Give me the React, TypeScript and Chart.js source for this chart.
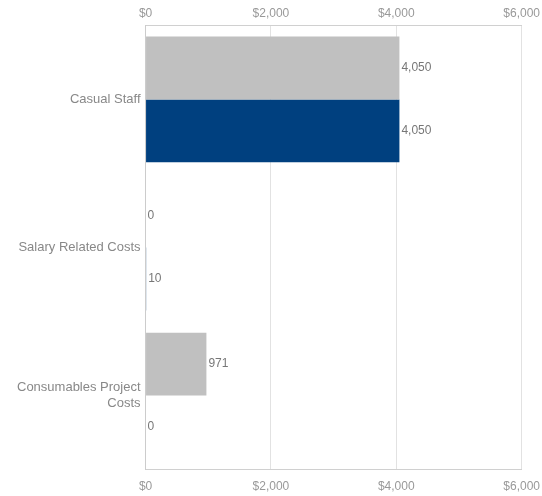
import React, { useEffect, useRef } from "react";
import { Chart, registerables } from "chart.js";

Chart.register(...registerables);

const categories: (string | string[])[] = [
  "Casual Staff",
  "Salary Related Costs",
  ["Consumables Project", "Costs"],
];
const seriesGray = [4050, 0, 971];
const seriesNavy = [4050, 10, 0];
const tickMin = 0;
const tickMax = 6000;
const tickStep = 2000;

const FONT = "'Liberation Sans', Arial, sans-serif";

const valueLabels = {
  id: "valueLabels",
  afterDatasetsDraw(chart: any) {
    const ctx = chart.ctx;
    ctx.save();
    ctx.font = `12px ${FONT}`;
    ctx.fillStyle = "#777777";
    ctx.textAlign = "left";
    ctx.textBaseline = "middle";
    chart.data.datasets.forEach((ds: any, di: number) => {
      const meta = chart.getDatasetMeta(di);
      meta.data.forEach((el: any, i: number) => {
        const v = ds.data[i];
        ctx.fillText(Number(v).toLocaleString("en-US"), el.x + 2, el.y);
      });
    });
    ctx.restore();
  },
};

export default function App() {
  const ref = useRef<HTMLCanvasElement>(null);
  useEffect(() => {
    if (!ref.current) return;
    const tickCb = (v: any) => "$" + Number(v).toLocaleString("en-US");
    const chart = new Chart(ref.current, {
      type: "bar",
      data: {
        labels: categories as any,
        datasets: [
          {
            label: "Budget",
            data: seriesGray,
            backgroundColor: "#c0c0c0",
            categoryPercentage: 0.85,
            barPercentage: 1,
            xAxisID: "x",
          },
          {
            label: "Actual",
            data: seriesNavy,
            backgroundColor: "#00407f",
            categoryPercentage: 0.85,
            barPercentage: 1,
            xAxisID: "x",
          },
        ],
      },
      options: {
        indexAxis: "y",
        animation: false,
        responsive: false,
        layout: { padding: { left: 12, top: 4, bottom: 0, right: 0 } },
        plugins: {
          legend: { display: false },
          tooltip: { enabled: false },
        },
        scales: {
          x: {
            type: "linear",
            position: "bottom",
            min: tickMin,
            max: tickMax,
            ticks: {
              stepSize: tickStep,
              callback: tickCb,
              color: "#999999",
              font: { family: FONT, size: 12 },
              padding: 2,
            },
            grid: {
              color: "#e2e2e2",
              drawTicks: true,
              tickLength: 8,
              tickColor: "rgba(0,0,0,0)",
            },
            border: { color: "#d0d0d0" },
          },
          x2: {
            type: "linear",
            position: "top",
            min: tickMin,
            max: tickMax,
            ticks: {
              stepSize: tickStep,
              callback: tickCb,
              color: "#999999",
              font: { family: FONT, size: 12 },
              padding: 2,
            },
            grid: {
              display: true,
              drawOnChartArea: false,
              drawTicks: true,
              tickLength: 3,
              tickColor: "rgba(0,0,0,0)",
            },
            border: { display: true, color: "#d0d0d0" },
          },
          y: {
            ticks: {
              color: "#888888",
              font: { family: FONT, size: 13 },
              padding: 5,
            },
            grid: { display: false, drawTicks: false },
            border: { color: "#cccccc" },
          },
        },
      },
      plugins: [valueLabels],
    });
    return () => chart.destroy();
  }, []);
  return (
    <div style={{ position: "fixed", left: 0, top: 0, width: 542, height: 496 }}>
      <canvas ref={ref} width={542} height={496} style={{ display: "block" }} />
    </div>
  );
}
